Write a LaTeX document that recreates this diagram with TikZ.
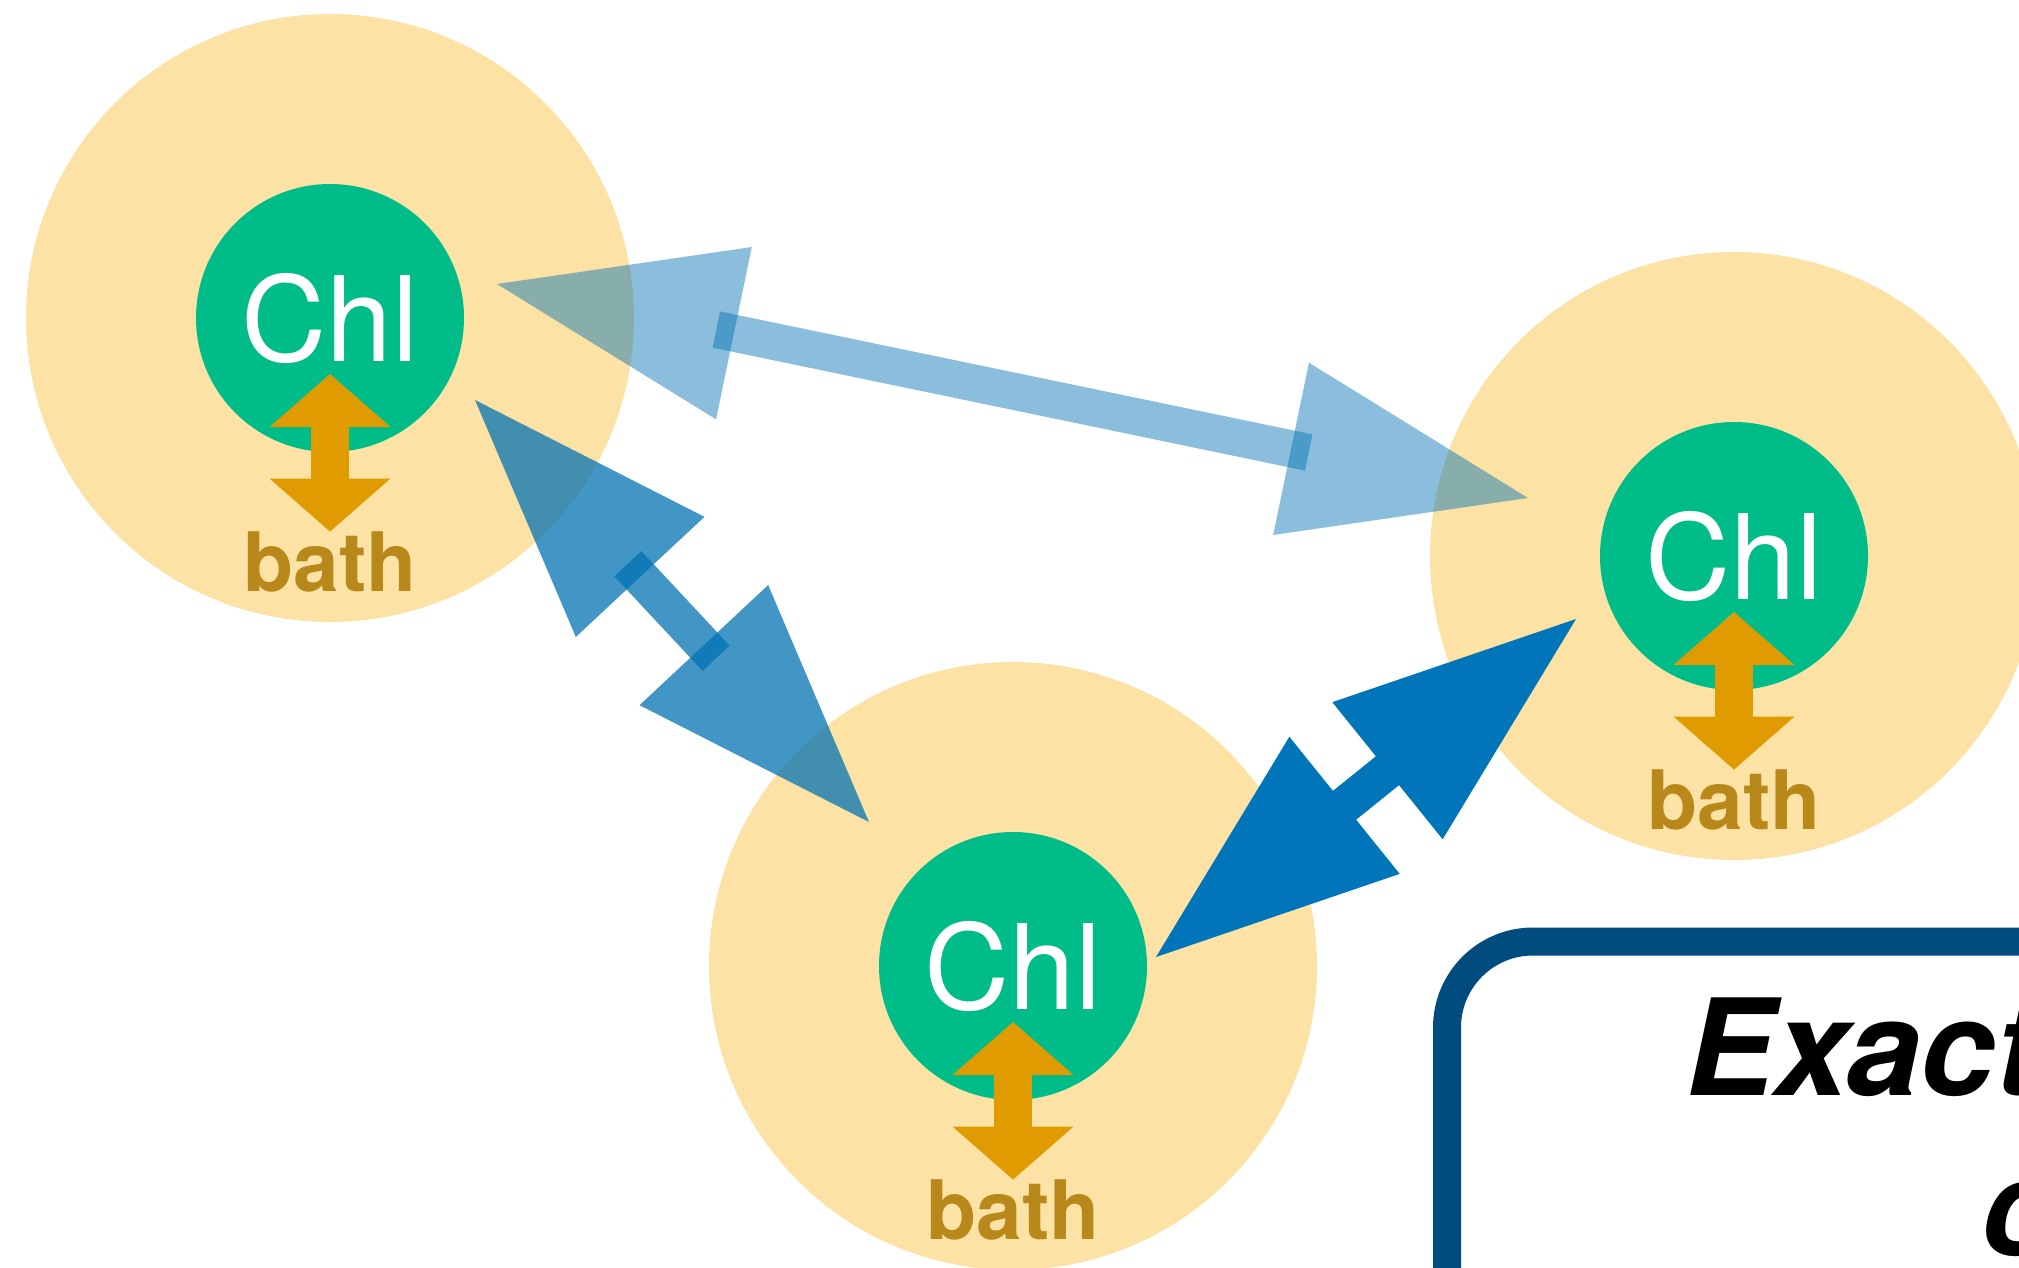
\documentclass[tikz,border=0pt]{standalone}
\usepackage{fontspec}
\setmainfont{TeX Gyre Heros}
\usetikzlibrary{arrows.meta,calc}

\definecolor{halocolor}{RGB}{253,226,166}
\definecolor{chlgreen}{RGB}{0,188,136}
\definecolor{bathorange}{RGB}{224,155,0}
\definecolor{bathtext}{RGB}{185,136,27}
\definecolor{linkblue}{RGB}{0,114,178}
\definecolor{strongblue}{RGB}{0,117,185}
\definecolor{panelblue}{RGB}{0,76,127}

% fat two-headed coupling arrow: style, from, to
\newcommand{\fatlink}[3]{%
  \draw[#1, line width=37pt, shorten <=224pt, shorten >=224pt] (#2) -- (#3);
  \fill[#1] (#2) -- ($(#2)!242pt!(#3)!88pt!90:(#3)$) -- ($(#2)!242pt!(#3)!88pt!-90:(#3)$) -- cycle;
  \fill[#1] (#3) -- ($(#3)!242pt!(#2)!88pt!90:(#2)$) -- ($(#3)!242pt!(#2)!88pt!-90:(#2)$) -- cycle;
}

\begin{document}
\begin{tikzpicture}[x=1pt, y=-1pt]
    \tikzstyle{halo} = [circle, fill=halocolor, minimum size=608pt, inner sep=0pt]
    \tikzstyle{chl} = [circle, fill=chlgreen, text=white, minimum size=268pt, inner sep=0pt, font=\fontsize{118}{118}\selectfont]
    \tikzstyle{bathlabel} = [text=bathtext, inner sep=0pt, node distance=244pt, font=\bfseries\fontsize{82}{82}\selectfont]
    \tikzstyle{bathlink} = [draw=bathorange, line width=38pt, {Triangle[length=53pt, width=121pt, line width=0pt]}-{Triangle[length=53pt, width=121pt, line width=0pt]}]
    \tikzstyle{weaklink} = [color=linkblue, opacity=.46]
    \tikzstyle{midlink} = [color=linkblue, opacity=.74]
    \tikzstyle{stronglink} = [color=strongblue]
    \tikzstyle{panel} = [draw=panelblue, line width=28pt, rounded corners=86pt, outer sep=0pt, minimum width=900pt, minimum height=600pt, anchor=north west]
    \tikzstyle{paneltitle} = [anchor=base west, inner sep=0pt, font=\bfseries\itshape\fontsize{134}{134}\selectfont]

    \useasboundingbox (0,0) rectangle (2019,1267);
    \clip (0,0) rectangle (2019,1267);

    \node [halo] (haloA) at (330,318) {};
    \node [halo] (haloB) at (1013,966) {};
    \node [halo] (haloC) at (1734,556) {};

    \node [chl] (chlA) at (haloA) {Chl};
    \node [chl] (chlB) at (haloB) {Chl};
    \node [chl] (chlC) at (haloC) {Chl};

    \node [bathlabel, below of=chlA] (bathA) {bath};
    \node [bathlabel, below of=chlB] (bathB) {bath};
    \node [bathlabel, below of=chlC] (bathC) {bath};

    \draw [bathlink] ([yshift=-56pt]chlA.center) -- (bathA.north);
    \draw [bathlink] ([yshift=-56pt]chlB.center) -- (bathB.north);
    \draw [bathlink] ([yshift=-56pt]chlC.center) -- (bathC.north);

    % coupling arrows between the pigments
    \coordinate (ac1) at (497,284);
    \coordinate (ac2) at (1528,498);
    \coordinate (ab1) at (475,400);
    \coordinate (ab2) at (869,822);
    \coordinate (bc1) at (1156,957);
    \coordinate (bc2) at (1576,619);
    \fatlink{weaklink}{ac1}{ac2}
    \fatlink{midlink}{ab1}{ab2}
    \fatlink{stronglink}{bc1}{bc2}

    \node [panel] (panel) at (1447,941.5) {};
    \node [paneltitle] (title1) at (1685,1095) {Exact};
    \node [paneltitle] (title2) at (1981,1255) {c};
\end{tikzpicture}
\end{document}
